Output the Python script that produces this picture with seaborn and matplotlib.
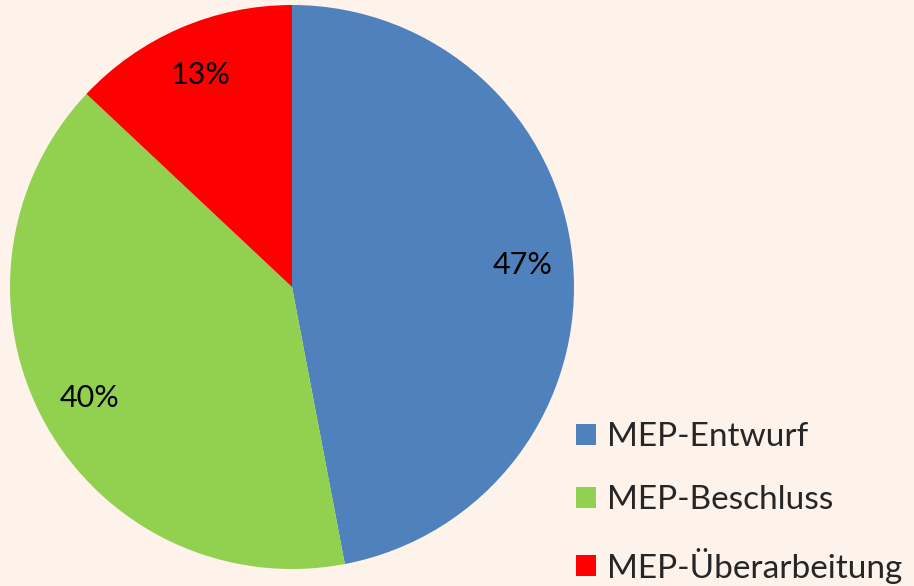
import matplotlib

matplotlib.use("Agg")
import matplotlib.pyplot as plt
import seaborn as sns

BG = "#FDF3EB"

sns.set_style("white", {"axes.facecolor": BG, "figure.facecolor": BG})
plt.rcParams["font.family"] = ["Lato", "DejaVu Sans"]

categories = ["MEP-Entwurf", "MEP-Beschluss", "MEP-Überarbeitung"]
shares = [47, 40, 13]
colors = ["#4F81BD", "#92D050", "#FF0000"]

fig = plt.figure(figsize=(9.14, 5.86), dpi=100)
ax = fig.add_axes([10 / 914, 17 / 586, 564 / 914, 564 / 586])

wedges, _, autotexts = ax.pie(
    shares,
    colors=colors,
    startangle=90,
    counterclock=False,
    autopct="%1.0f%%",
    pctdistance=0.82,
    textprops={"fontsize": 22, "color": "black"},
    wedgeprops={"linewidth": 0},
)
ax.set_xlim(-1, 1)
ax.set_ylim(-1, 1)
ax.set_aspect("equal")

fig.legend(
    wedges,
    categories,
    loc="lower left",
    bbox_to_anchor=(576 / 914, 0.004),
    frameon=False,
    borderpad=0,
    borderaxespad=0,
    fontsize=24,
    handlelength=0.6,
    handleheight=0.6,
    handletextpad=0.33,
    labelspacing=0.98,
)

fig.savefig("out.png", dpi=100, facecolor=BG)
